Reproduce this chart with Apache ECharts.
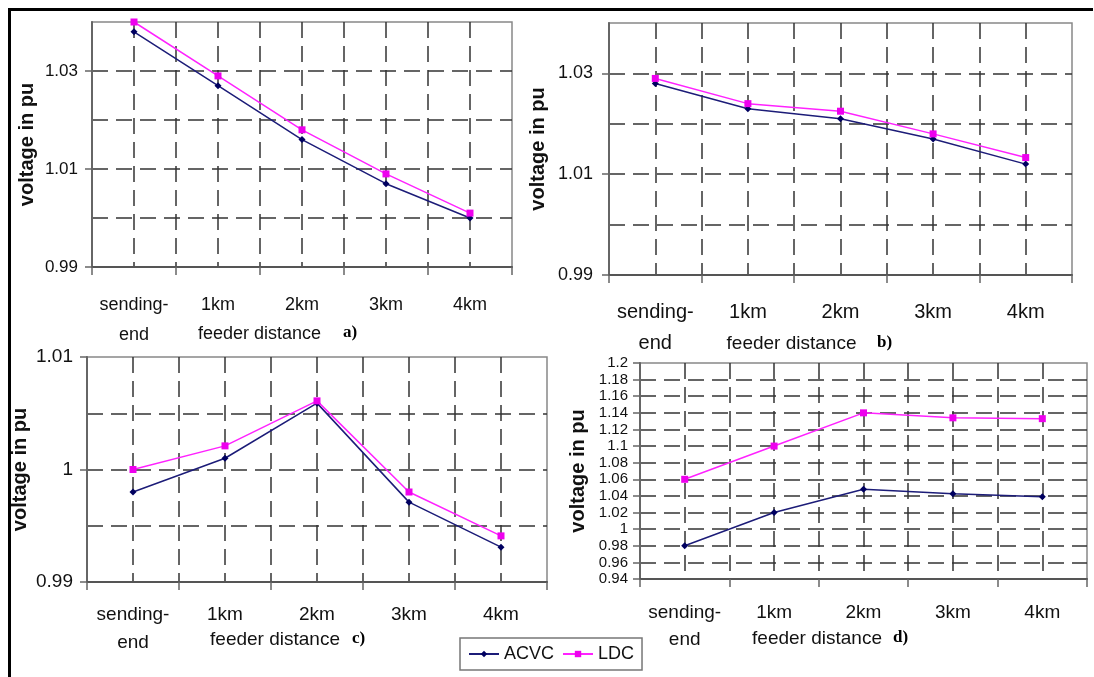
<!DOCTYPE html>
<html><head><meta charset="utf-8">
<script src="https://cdn.jsdelivr.net/npm/echarts@6/dist/echarts.min.js"></script>
<style>html,body{margin:0;padding:0;background:#fff}#c{width:1094px;height:677px}</style>
</head><body><div id="c"></div>
<script>
// ---- data ----
const categories = ['sending-end', '1km', '2km', '3km', '4km'];
const seriesNames = ['ACVC', 'LDC'];
const acvcA = [1.038, 1.027, 1.016, 1.007, 1.000];
const ldcA  = [1.040, 1.029, 1.018, 1.009, 1.001];
const acvcB = [1.028, 1.023, 1.021, 1.017, 1.012];
const ldcB  = [1.029, 1.024, 1.0225, 1.018, 1.0133];
const acvcC = [0.998, 1.001, 1.0059, 0.9971, 0.9931];
const ldcC  = [1.000, 1.0021, 1.0061, 0.998, 0.9941];
const acvcD = [0.98, 1.02, 1.048, 1.0425, 1.039];
const ldcD  = [1.06, 1.10, 1.14, 1.134, 1.133];
const yTicksA = ['0.99', '1.01', '1.03'];
const yTicksB = ['0.99', '1.01', '1.03'];
const yTicksC = ['0.99', '1', '1.01'];
const yTicksD = ['0.94', '0.96', '0.98', '1', '1.02', '1.04', '1.06', '1.08', '1.1', '1.12', '1.14', '1.16', '1.18', '1.2'];
const yName = 'voltage in pu';
const xName = 'feeder distance';
const panelLetters = ['a)', 'b)', 'c)', 'd)'];

// ---- layout / style ----
const FONT = '"Liberation Sans", Arial, sans-serif';
const TXT = '#111';
const panels = [
  {grid: {left: 92, top: 22, width: 420, height: 245}, y: {min: 0.99, max: 1.04, interval: 0.01}, ticks: yTicksA, acvc: acvcA, ldc: ldcA,
   tickFont: 17, tickMargin: 14, catFont: 18, catLH: 30, catMargin: 23, yGap: 55, xGap: 58, xFont: 18, xPadR: 85, letter: [343, 324]},
  {grid: {left: 609, top: 23, width: 463, height: 252}, y: {min: 0.99, max: 1.04, interval: 0.01}, ticks: yTicksB, acvc: acvcB, ldc: ldcB,
   tickFont: 18, tickMargin: 16, catFont: 20, catLH: 31, catMargin: 22, yGap: 61, xGap: 59, xFont: 19, xPadR: 98, letter: [877, 334]},
  {grid: {left: 87, top: 357, width: 460, height: 225}, y: {min: 0.99, max: 1.01, interval: 0.005}, ticks: yTicksC, acvc: acvcC, ldc: ldcC,
   tickFont: 19, tickMargin: 14, catFont: 19, catLH: 28, catMargin: 19, yGap: 57, xGap: 48, xFont: 19, xPadR: 84, letter: [352, 630]},
  {grid: {left: 640, top: 363, width: 447, height: 216}, y: {min: 0.94, max: 1.2, interval: 0.02}, ticks: yTicksD, acvc: acvcD, ldc: ldcD,
   tickFont: 15, tickMargin: 12, catFont: 19, catLH: 27, catMargin: 20, yGap: 52, xGap: 50, xFont: 19, xPadR: 93, letter: [893, 629]}
];
const fmt = v => String(parseFloat(v.toFixed(4)));
const gridLine = {show: true, showMinLine: false, showMaxLine: false, lineStyle: {color: '#333', width: 1.5, type: [16, 8]}};

const grids = [], xAxes = [], yAxes = [], series = [], graphics = [];
panels.forEach((p, i) => {
  grids.push(Object.assign({show: true, borderColor: '#888', borderWidth: 1.5, containLabel: false}, p.grid));
  xAxes.push({
    type: 'category', gridIndex: i, data: categories, boundaryGap: true,
    axisLine: {show: true, lineStyle: {color: '#555', width: 2}},
    axisTick: {show: true, interval: 0, length: 8, lineStyle: {color: '#666', width: 1.5}},
    axisLabel: {interval: 0, formatter: v => v.replace('-', '-\n'), fontSize: p.catFont, lineHeight: p.catLH,
      margin: p.catMargin, color: TXT, fontFamily: FONT},
    splitLine: {show: false},
    name: xName, nameLocation: 'middle', nameGap: p.xGap, nameMoveOverlap: false,
    nameTextStyle: {fontSize: p.xFont, color: TXT, fontFamily: FONT, padding: [0, p.xPadR, 0, 0]}
  });
  const tv = p.ticks.map(Number);
  yAxes.push({
    type: 'value', gridIndex: i, min: p.y.min, max: p.y.max, interval: p.y.interval,
    axisLine: {show: true, lineStyle: {color: '#666', width: 2}},
    axisTick: {show: true, customValues: tv, length: 7, lineStyle: {color: '#666', width: 1.5}},
    axisLabel: {customValues: tv, formatter: v => (p.ticks.includes(fmt(v)) ? fmt(v) : ''),
      fontSize: p.tickFont, margin: p.tickMargin, color: TXT, fontFamily: FONT},
    splitLine: {show: false},
    name: yName, nameLocation: 'middle', nameGap: p.yGap, nameRotate: 90, nameMoveOverlap: false,
    nameTextStyle: {fontSize: 20, fontWeight: 'bold', color: TXT, fontFamily: FONT}
  });
  series.push({
    name: seriesNames[0], type: 'line', xAxisIndex: i, yAxisIndex: i, data: p.acvc,
    symbol: 'diamond', symbolSize: 7, showSymbol: true,
    lineStyle: {color: '#1c1c78', width: 1.5}, itemStyle: {color: '#000060'}, z: 3
  });
  series.push({
    name: seriesNames[1], type: 'line', xAxisIndex: i, yAxisIndex: i, data: p.ldc,
    symbol: 'rect', symbolSize: 7, showSymbol: true,
    lineStyle: {color: '#ff22ff', width: 1.5}, itemStyle: {color: '#ee00ee'}, z: 4
  });
  graphics.push({type: 'text', left: p.letter[0], top: p.letter[1],
    style: {text: panelLetters[i], font: 'bold 17px "Liberation Serif", "Times New Roman", serif', fill: '#000'}});
});
// helper axes: dashed grid lines at every y step and at category centres and boundaries
panels.forEach((p, i) => {
  xAxes.push({
    type: 'category', gridIndex: i, data: Array.from({length: 10}, (_, k) => 'h' + k), boundaryGap: true,
    axisLine: {show: false}, axisTick: {show: false}, axisLabel: {show: false},
    splitLine: Object.assign({interval: 0}, gridLine)
  });
  yAxes.push({
    type: 'value', gridIndex: i, min: p.y.min, max: p.y.max, interval: p.y.interval,
    axisLine: {show: false}, axisTick: {show: false}, axisLabel: {show: false},
    splitLine: gridLine
  });
});
// outer frame (top and left edges)
graphics.push({type: 'line', shape: {x1: 9, y1: 9.5, x2: 1093, y2: 9.5}, style: {stroke: '#000', lineWidth: 3}, z: 10});
graphics.push({type: 'line', shape: {x1: 9.5, y1: 8, x2: 9.5, y2: 677}, style: {stroke: '#000', lineWidth: 3}, z: 10});

const chart = echarts.init(document.getElementById('c'), null, {renderer: 'canvas'});
chart.setOption({
  animation: false,
  backgroundColor: '#fff',
  grid: grids, xAxis: xAxes, yAxis: yAxes, series: series,
  legend: {
    data: seriesNames, left: 460, top: 638, orient: 'horizontal',
    itemWidth: 30, itemHeight: 8, itemGap: 8, padding: [7, 8],
    borderColor: '#777', borderWidth: 1.5, backgroundColor: '#fff',
    textStyle: {fontSize: 18, color: TXT, fontFamily: FONT}
  },
  graphic: graphics
});
</script></body></html>
